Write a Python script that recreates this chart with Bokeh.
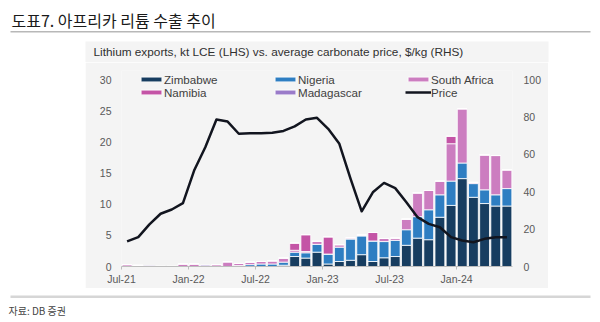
from bokeh.plotting import figure
from bokeh.layouts import column, row
from bokeh.models import (ColumnDataSource, Range1d, LinearAxis, FixedTicker, Legend,
                          LegendItem, BoxAnnotation, Label, Spacer)
from bokeh.embed import file_html
from bokeh.resources import INLINE

# ---------------- data ----------------
months = ["Jul-21", "Aug-21", "Sep-21", "Oct-21", "Nov-21", "Dec-21",
          "Jan-22", "Feb-22", "Mar-22", "Apr-22", "May-22", "Jun-22",
          "Jul-22", "Aug-22", "Sep-22", "Oct-22", "Nov-22", "Dec-22",
          "Jan-23", "Feb-23", "Mar-23", "Apr-23", "May-23", "Jun-23",
          "Jul-23", "Aug-23", "Sep-23", "Oct-23", "Nov-23", "Dec-23",
          "Jan-24", "Feb-24", "Mar-24", "Apr-24", "May-24"]

zimbabwe = [0, 0, 0, 0, 0, 0, 0, 0, 0, 0, 0, 0, 0, 0, 0.2, 1.6, 1.35, 2.3,
            0.4, 0.8, 1.0, 1.9, 0.8, 1.4, 1.6, 3.4, 4.55, 4.3, 7.9, 9.8,
            14.1, 11.1, 10.1, 9.7, 9.7]
nigeria = [0, 0, 0, 0, 0, 0, 0, 0, 0, 0, 0.15, 0.3, 0.4, 0.4, 0.5, 0.7, 0.85, 1.25,
           1.6, 2.3, 3.4, 3.0, 3.3, 2.6, 2.6, 2.5, 3.45, 4.8, 3.6, 3.9,
           2.5, 2.2, 2.2, 1.8, 2.8]
south_africa = [0.3, 0.2, 0, 0, 0, 0.4, 0.4, 0.1, 0.3, 0.75, 0.35, 0.4, 0.4, 0.5, 0.65,
                0.3, 0.2, 0.5, 0, 0.4, 0.2, 0.15, 0, 0.5, 0.35, 1.7, 3.8, 3.1,
                2.2, 6.0, 8.7, 0.2, 5.6, 6.3, 3.0]
namibia = [0, 0, 0, 0, 0, 0, 0, 0, 0, 0, 0, 0, 0, 0, 0, 1.15, 2.7, 0,
           2.75, 0, 0, 0, 1.35, 0, 0, 0, 0, 0, 0, 1.2, 0, 0, 0, 0, 0]
madagascar = [0, 0, 0.15, 0.1, 0.1, 0, 0, 0.15, 0, 0, 0, 0, 0, 0, 0, 0, 0, 0,
              0, 0, 0, 0, 0, 0, 0, 0, 0, 0, 0, 0, 0, 0, 0, 0, 0]
price = [13.4, 15.7, 22.5, 28.2, 30.5, 33.9, 51.3, 63.8, 78.6, 77.5, 71.0, 71.3,
         71.2, 71.5, 72.5, 74.9, 78.6, 79.5, 73.6, 65.6, 47.0, 29.5, 39.7, 44.7,
         41.9, 34.4, 26.4, 22.8, 21.0, 15.7, 13.9, 13.0, 14.8, 15.7, 15.7]

tick_months = ["Jul-21", "Jan-22", "Jul-22", "Jan-23", "Jul-23", "Jan-24"]
left_ticks = [0, 5, 10, 15, 20, 25, 30]
right_ticks = [0, 20, 40, 60, 80, 100]

series = ["zimbabwe", "nigeria", "south_africa", "namibia", "madagascar"]
series_labels = ["Zimbabwe", "Nigeria", "South Africa", "Namibia", "Madagascar"]
colors = ["#173d60", "#2e7ec2", "#cc7dc0", "#c454a6", "#9a7bc9"]

title_text = "도표7. 아프리카 리튬 수출 추이"
subtitle_text = "Lithium exports, kt LCE (LHS) vs. average carbonate price, $/kg (RHS)"
source_text = "자료: DB 증권"

# ---------------- layout geometry (pixels) ----------------
W, H = 600, 322
PANEL_L, PANEL_R, PANEL_T, PANEL_B = 85, 548, 41, 288
STRIP_H = 62                      # top strip (title + subtitle)
FRAME_L, FRAME_R, FRAME_T, FRAME_B = 121, 512, 70, 266
PX_LEFT_UNIT = (FRAME_B - 79) / 30.0     # px per LHS unit (30 sits at y=79)
PX_RIGHT_UNIT = (FRAME_B - 79) / 100.0   # px per RHS unit
PANEL_BG = "#f4f4f4"
ax_font = "Liberation Sans"
kr_font = "Noto Sans CJK KR"

# ---------------- title strip ----------------
top = figure(width=W, height=STRIP_H, output_backend="svg", toolbar_location=None,
             x_range=Range1d(0, W), y_range=Range1d(STRIP_H, 0),
             x_axis_location=None, y_axis_location=None,
             min_border_left=0, min_border_right=0, min_border_top=0, min_border_bottom=0)
top.outline_line_color = None
top.grid.visible = False
top.background_fill_color = None
top.border_fill_color = "white"
top.add_layout(BoxAnnotation(left=PANEL_L, right=PANEL_R, top=PANEL_T, bottom=STRIP_H + 1,
                             fill_color=PANEL_BG, fill_alpha=1, line_alpha=0))
top.add_layout(Label(x=11, y=19, text=title_text, text_font=kr_font,
                     text_font_size="16px", text_color="#1a1a1a",
                     text_baseline="middle", text_align="left"))
top.add_layout(BoxAnnotation(left=10, right=590, top=30.5, bottom=32,
                             fill_color="#b8b8b8", fill_alpha=1, line_alpha=0))
top.add_layout(Label(x=93, y=51, text=subtitle_text, text_font=ax_font,
                     text_font_size="11.8px", text_color="#303030",
                     text_baseline="middle", text_align="left"))

# ---------------- chart ----------------
src = ColumnDataSource(dict(
    x=[i + 0.5 for i in range(len(months))],
    month=months,
    zimbabwe=zimbabwe, nigeria=nigeria, south_africa=south_africa,
    namibia=namibia, madagascar=madagascar, price=price,
))

y_top = 30 + (79 - FRAME_T) / PX_LEFT_UNIT
p_top = 100 + (79 - FRAME_T) / PX_RIGHT_UNIT

p = figure(width=PANEL_R - PANEL_L, height=PANEL_B - STRIP_H, output_backend="svg",
           toolbar_location=None,
           x_range=Range1d(0, len(months)), y_range=Range1d(0, y_top),
           min_border_left=FRAME_L - PANEL_L, min_border_right=PANEL_R - FRAME_R,
           min_border_top=FRAME_T - STRIP_H, min_border_bottom=PANEL_B - FRAME_B)
p.extra_y_ranges = {"price": Range1d(0, p_top)}
p.background_fill_color = PANEL_BG
p.border_fill_color = PANEL_BG
p.outline_line_color = None
p.xgrid.visible = False
p.ygrid.visible = False

bars = p.vbar_stack(series, x="x", width=0.88, color=colors, source=src,
                    line_color="white", line_width=0.8)
line_r = p.line(x="x", y="price", y_range_name="price", source=src,
                line_color="#12151f", line_width=2.5, line_join="round")

xa = p.xaxis[0]
xa.ticker = FixedTicker(ticks=[months.index(m) for m in tick_months])
xa.major_label_overrides = {months.index(m): m for m in tick_months}
xa.axis_line_color = "#bdbdbd"
xa.major_tick_line_color = "#bdbdbd"
xa.major_tick_out = 3
xa.major_tick_in = 0
xa.minor_tick_line_color = None
xa.major_label_text_font = ax_font
xa.major_label_text_font_size = "10.5px"
xa.major_label_text_color = "#595959"
xa.major_label_standoff = 3

ya = p.yaxis[0]
ya.ticker = FixedTicker(ticks=left_ticks)
ya.axis_line_color = None
ya.major_tick_line_color = None
ya.minor_tick_line_color = None
ya.major_label_text_font = ax_font
ya.major_label_text_font_size = "10.5px"
ya.major_label_text_color = "#595959"
ya.major_label_standoff = 4

ra = LinearAxis(y_range_name="price", ticker=FixedTicker(ticks=right_ticks))
ra.axis_line_color = None
ra.major_tick_line_color = None
ra.minor_tick_line_color = None
ra.major_label_text_font = ax_font
ra.major_label_text_font_size = "10.5px"
ra.major_label_text_color = "#595959"
ra.major_label_standoff = 5
p.add_layout(ra, "right")

rmap = dict(zip(series_labels, bars))
rmap["Price"] = line_r
legend_cols = [["Zimbabwe", "Namibia"], ["Nigeria", "Madagascar"], ["South Africa", "Price"]]
legend_x = [138, 272, 405]
for names, lx in zip(legend_cols, legend_x):
    lg = Legend(items=[LegendItem(label=n, renderers=[rmap[n]]) for n in names],
                location=(lx - FRAME_L, FRAME_B - 98.5), orientation="vertical",
                background_fill_alpha=0, border_line_alpha=0, padding=0, margin=0,
                spacing=0, label_height=13, glyph_height=6, glyph_width=26,
                label_standoff=0, label_text_font=ax_font,
                label_text_font_size="11.6px", label_text_color="#404040")
    p.add_layout(lg)

# ---------------- footer strip ----------------
bot = figure(width=W, height=H - PANEL_B, output_backend="svg", toolbar_location=None,
             x_range=Range1d(0, W), y_range=Range1d(H, PANEL_B),
             x_axis_location=None, y_axis_location=None,
             min_border_left=0, min_border_right=0, min_border_top=0, min_border_bottom=0)
bot.outline_line_color = None
bot.grid.visible = False
bot.background_fill_color = None
bot.border_fill_color = "white"
bot.add_layout(BoxAnnotation(left=10, right=590, top=295, bottom=297.5,
                             fill_color="#d6d6d6", fill_alpha=1, line_alpha=0))
bot.add_layout(Label(x=8, y=310, text=source_text, text_font=kr_font,
                     text_font_size="10px", text_color="#444444",
                     text_baseline="middle", text_align="left"))

layout = column(top,
                row(Spacer(width=PANEL_L, height=PANEL_B - STRIP_H), p,
                    Spacer(width=W - PANEL_R, height=PANEL_B - STRIP_H), spacing=0),
                bot, spacing=0)

open("out.html", "w").write(file_html(layout, INLINE))
